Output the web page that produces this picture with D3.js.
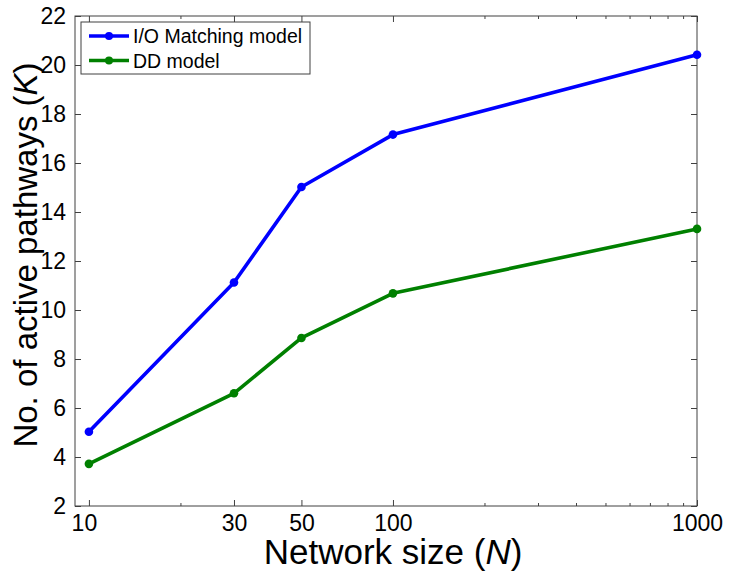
<!DOCTYPE html>
<html><head><meta charset="utf-8">
<script src="https://cdn.jsdelivr.net/npm/d3@7"></script>
<style>body{margin:0;background:#fff}svg{display:block;font-family:"Liberation Sans",Arial,sans-serif}</style>
</head><body>
<svg id="c" width="729" height="578"></svg>
<script>
const networkSizes = [10, 30, 50, 100, 1000];
const ioMatching = [5.03, 11.12, 15.02, 17.16, 20.42];
const ddModel = [3.72, 6.6, 8.86, 10.68, 13.31];
const seriesNames = ["I/O Matching model", "DD model"];
const seriesColors = ["#0000ff", "#008000"];
const xMajorTicks = [10, 30, 50, 100, 1000];
const xMinorTicks = [20, 200, 300, 400, 500, 600, 700, 800, 900];
const yTicks = [2, 4, 6, 8, 10, 12, 14, 16, 18, 20, 22];

const L = 75, R = 697, T = 16, B = 506;
const svg = d3.select("#c");
const x = d3.scaleLog().domain([9, 1000]).range([L, R]);
const y = d3.scaleLinear().domain([2, 22]).range([B, T]);
const axisColor = "#404040";

// box
svg.append("rect").attr("x", L).attr("y", T).attr("width", R - L).attr("height", B - T)
  .attr("fill", "none").attr("stroke", axisColor).attr("stroke-width", 1);

// axes (ticks inward)
const gBottom = svg.append("g").attr("transform", `translate(0,${B})`)
  .call(d3.axisBottom(x).tickValues(xMajorTicks).tickFormat(d3.format("d")).tickSizeInner(-6).tickSizeOuter(0).tickPadding(9));
const gTop = svg.append("g").attr("transform", `translate(0,${T})`)
  .call(d3.axisTop(x).tickValues(xMajorTicks).tickFormat("").tickSizeInner(-6).tickSizeOuter(0));
const gBottomMinor = svg.append("g").attr("transform", `translate(0,${B})`)
  .call(d3.axisBottom(x).tickValues(xMinorTicks).tickFormat("").tickSizeInner(-3).tickSizeOuter(0));
const gTopMinor = svg.append("g").attr("transform", `translate(0,${T})`)
  .call(d3.axisTop(x).tickValues(xMinorTicks).tickFormat("").tickSizeInner(-3).tickSizeOuter(0));
const gLeft = svg.append("g").attr("transform", `translate(${L},0)`)
  .call(d3.axisLeft(y).tickValues(yTicks).tickFormat(d3.format("d")).tickSizeInner(-6).tickSizeOuter(0).tickPadding(9));
const gRight = svg.append("g").attr("transform", `translate(${R},0)`)
  .call(d3.axisRight(y).tickValues(yTicks).tickFormat("").tickSizeInner(-6).tickSizeOuter(0));
[gBottom, gTop, gBottomMinor, gTopMinor, gLeft, gRight].forEach(g => {
  g.select(".domain").remove();
  g.selectAll("line").attr("stroke", axisColor);
  g.selectAll("text").attr("fill", "#000").style("font-size", "23px").style("font-family", '"Liberation Sans",Arial,sans-serif');
});
gBottom.selectAll("text").filter(d => d === 10).attr("dx", -5);

// axis titles
const xt = svg.append("text").attr("x", 393).attr("y", 564).attr("text-anchor", "middle")
  .style("font-size", "35px");
xt.append("tspan").text("Network size (");
xt.append("tspan").attr("font-style", "italic").text("N");
xt.append("tspan").text(")");
const yt = svg.append("text").attr("transform", "translate(37,255) rotate(-90)").attr("text-anchor", "middle")
  .style("font-size", "33px");
yt.append("tspan").text("No. of active pathways (");
yt.append("tspan").attr("font-style", "italic").text("K");
yt.append("tspan").text(")");

// series
const allSeries = [ioMatching, ddModel];
const line = d3.line().x((d, i) => x(networkSizes[i])).y(d => y(d));
allSeries.forEach((vals, k) => {
  svg.append("path").datum(vals).attr("d", line).attr("fill", "none")
    .attr("stroke", seriesColors[k]).attr("stroke-width", 3.6).attr("stroke-linejoin", "round");
  svg.selectAll(null).data(vals).enter().append("circle")
    .attr("cx", (d, i) => x(networkSizes[i])).attr("cy", d => y(d)).attr("r", 4.3)
    .attr("fill", seriesColors[k]);
});

// legend
const lg = svg.append("g");
lg.append("rect").attr("x", 81).attr("y", 22).attr("width", 229).attr("height", 52)
  .attr("fill", "#fff").attr("stroke", axisColor).attr("stroke-width", 1);
seriesNames.forEach((name, k) => {
  const ly = 36 + k * 24.5;
  lg.append("line").attr("x1", 89).attr("x2", 129).attr("y1", ly).attr("y2", ly)
    .attr("stroke", seriesColors[k]).attr("stroke-width", 3.6);
  lg.append("circle").attr("cx", 109).attr("cy", ly).attr("r", 4).attr("fill", seriesColors[k]);
  lg.append("text").attr("x", 133).attr("y", ly + 7).style("font-size", "19.5px").text(name);
});
</script>
</body></html>
